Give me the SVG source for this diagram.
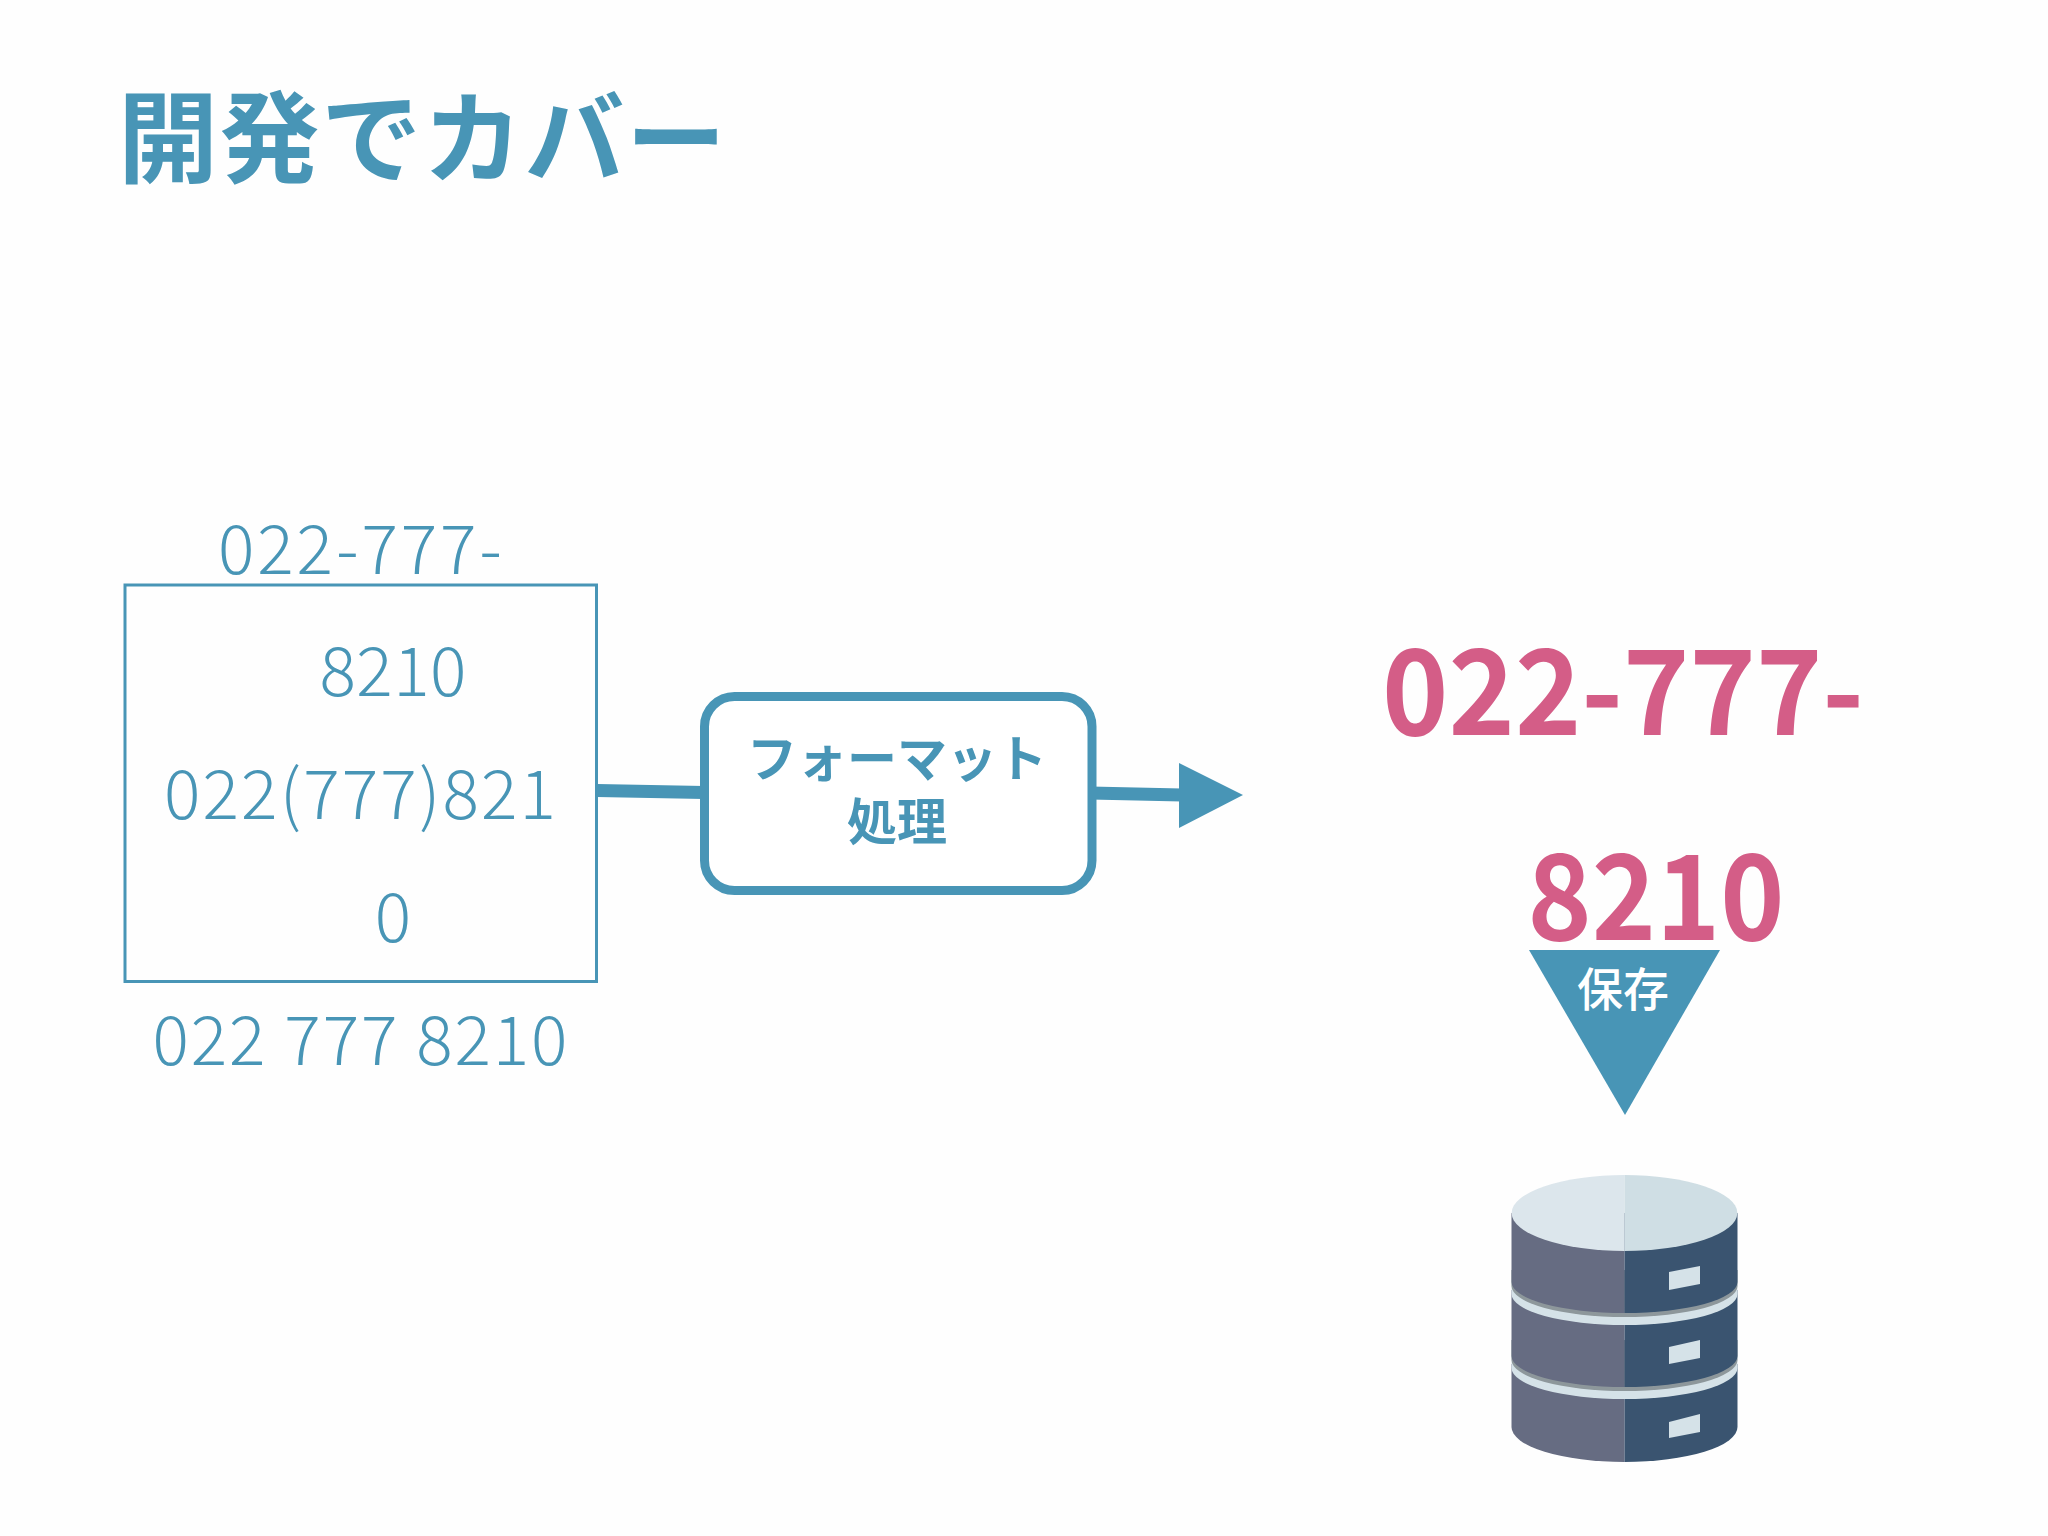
<svg xmlns="http://www.w3.org/2000/svg" width="2048" height="1536" viewBox="0 0 2048 1536">
<style>
text{font-family:"Noto Sans CJK JP","Noto Sans",sans-serif;text-anchor:middle}
.title{font-size:100px;font-weight:700;fill:#4895b6;text-anchor:start;letter-spacing:1.6px}
.num{font-size:68px;font-weight:300;fill:#4895b6}
.pink{font-size:118px;font-weight:700;fill:#d45d87}
.lab{font-size:50px;font-weight:700;fill:#4895b6}
.line{stroke:#4895b6;stroke-width:13;fill:none}
.lt{fill:#666c82}.rt{fill:#3a5470}.band{fill:#d5e2e8}.gr{fill:#8d979b}
</style>
<rect width="2048" height="1536" fill="#fefefe"/>
<g id="title"><text class="title" x="118" y="175">開発でカバー</text></g>
<g id="inputs">
<rect x="125" y="585" width="471.500" height="396.500" fill="none" stroke="#4895b6" stroke-width="3"/>
<text class="num" x="360" y="574" textLength="284">022-777-</text>
<text class="num" x="393" y="695.500" textLength="147">8210</text>
<text class="num" x="360" y="818.500" textLength="392">022(777)821</text>
<text class="num" x="393" y="941.500">0</text>
<text class="num" x="360" y="1064.500" textLength="415">022 777 8210</text>
</g>
<g id="connectors">
<path class="line" d="M597 790.500L704 792.500"/>
<path class="line" d="M1090 793L1182 795"/>
<polygon points="1179,763 1243,795 1179,828" fill="#4895b6"/>
</g>
<g id="process">
<rect x="704.500" y="696.500" width="387.500" height="194" rx="30" fill="#fff" stroke="#4895b6" stroke-width="9"/>
<text class="lab" x="897" y="777">フォーマット</text>
<text class="lab" x="897" y="840">処理</text>
</g>
<g id="result">
<text class="pink" x="1623" y="735" textLength="482" lengthAdjust="spacingAndGlyphs">022-777-</text>
<text class="pink" x="1656" y="940" textLength="257" lengthAdjust="spacingAndGlyphs">8210</text>
</g>
<g id="save">
<polygon points="1529,950 1720,950 1625,1115" fill="#4895b6"/>
<text x="1623" y="1006" font-size="46" font-weight="500" fill="#fff">保存</text>
</g>
<g id="database">
<path class="lt" d="M1511.500 1364V1427A113 35 0 0 0 1624.500 1462V1364Z"/>
<path class="rt" d="M1737.500 1364V1427A113 35 0 0 1 1624.500 1462V1364Z"/>
<path class="band" d="M1511.500 1340V1368A113 31 0 0 0 1737.500 1368V1340Z"/>
<path class="gr" d="M1511.500 1340V1360A113 31 0 0 0 1737.500 1360V1340Z"/>
<path class="lt" d="M1511.500 1290V1356A113 31 0 0 0 1624.500 1387V1290Z"/>
<path class="rt" d="M1737.500 1290V1356A113 31 0 0 1 1624.500 1387V1290Z"/>
<path class="band" d="M1511.500 1270V1294A113 31 0 0 0 1737.500 1294V1270Z"/>
<path class="gr" d="M1511.500 1270V1286A113 31 0 0 0 1737.500 1286V1270Z"/>
<path class="lt" d="M1511.500 1213V1282A113 31 0 0 0 1624.500 1313V1213Z"/>
<path class="rt" d="M1737.500 1213V1282A113 31 0 0 1 1624.500 1313V1213Z"/>
<path fill="#dce6ec" d="M1624.500 1175A113 38 0 0 0 1624.500 1251Z"/>
<path fill="#cfdee4" d="M1624.500 1175A113 38 0 0 1 1624.500 1251Z"/>
<polygon class="band" points="1669,1272 1700,1266 1700,1284 1669,1290"/>
<polygon class="band" points="1669,1347 1700,1340 1700,1358 1669,1364"/>
<polygon class="band" points="1669,1422 1700,1414 1700,1432 1669,1438"/>
</g>
</svg>
